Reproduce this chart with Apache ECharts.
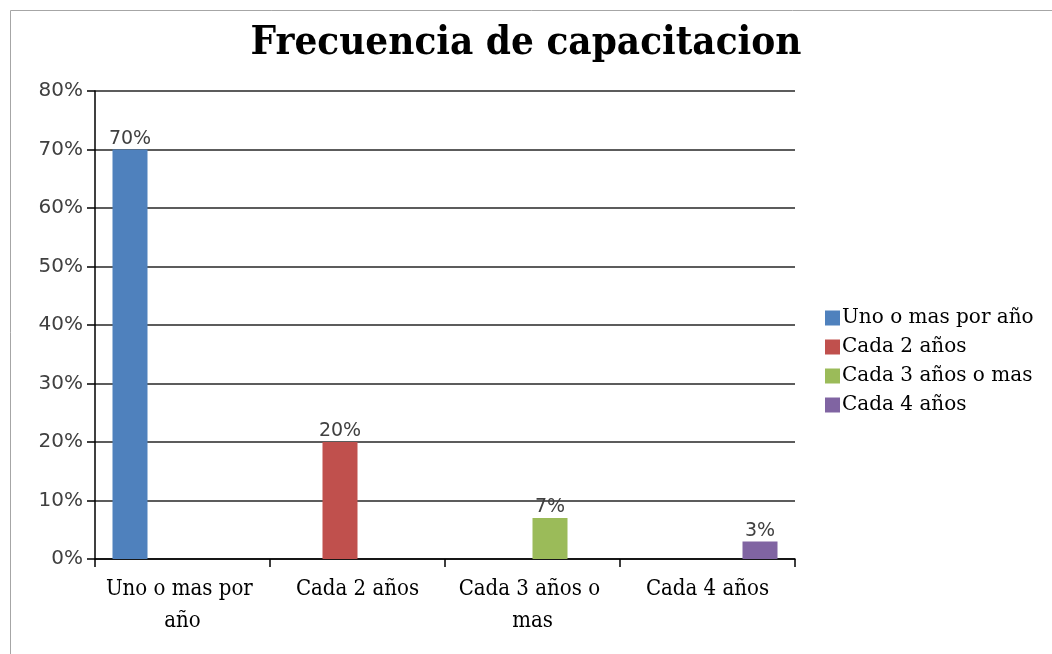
<!DOCTYPE html>
<html>
<head>
<meta charset="utf-8">
<script src="https://cdn.jsdelivr.net/npm/echarts@6/dist/echarts.min.js"></script>
<style>
  html, body { margin: 0; padding: 0; background: #fff; }
  #main { width: 1052px; height: 654px; }
</style>
</head>
<body>
<div id="main"></div>
<script>
  // data
  var titleText = 'Frecuencia de capacitacion'
  var categories = ['Uno o mas por año', 'Cada 2 años', 'Cada 3 años o mas', 'Cada 4 años']
  var seriesNames = ['Uno o mas por año', 'Cada 2 años', 'Cada 3 años o mas', 'Cada 4 años']
  var unoOMas = [70, null, null, null]
  var cada2 = [null, 20, null, null]
  var cada3 = [null, null, 7, null]
  var cada4 = [null, null, null, 3]
  var colors = ['#4f81bd', '#c0504d', '#9bbb59', '#8064a2']

  var seriesValues = [unoOMas, cada2, cada3, cada4]

  var myChart = echarts.init(document.getElementById('main'))

  var series = seriesValues.map(function (vals, i) {
    return {
      name: seriesNames[i],
      type: 'bar',
      data: vals,
      barGap: '0%',
      barCategoryGap: '20%',
      itemStyle: { color: colors[i] },
      label: {
        show: true,
        position: 'top',
        distance: 1,
        formatter: '{c}%',
        fontFamily: 'DejaVu Sans',
        fontSize: 19,
        color: '#404040'
      }
    }
  })

  var option = {
    animation: false,
    graphic: [{
      type: 'rect',
      shape: { x: 10.5, y: 10.5, width: 1100, height: 700 },
      style: { fill: 'none', stroke: '#a6a6a6', lineWidth: 1 },
      silent: true
    }],
    title: {
      text: titleText,
      left: 'center',
      top: 19,
      textStyle: {
        fontFamily: 'DejaVu Serif Condensed',
        fontWeight: 'bold',
        fontSize: 40,
        color: '#000'
      }
    },
    legend: {
      orient: 'vertical',
      left: 820,
      top: 303,
      itemWidth: 15,
      itemHeight: 15,
      itemGap: 9,
      icon: 'rect',
      textStyle: {
        fontFamily: 'DejaVu Serif',
        fontSize: 20,
        color: '#000',
        padding: [0, 0, 0, -3]
      },
      data: seriesNames
    },
    grid: {
      left: 95,
      right: 257,
      top: 91,
      bottom: 95,
      containLabel: false
    },
    xAxis: {
      type: 'category',
      data: categories,
      axisLine: { lineStyle: { color: '#000', width: 1.5 } },
      axisTick: { show: true, interval: 0, length: 8, lineStyle: { color: '#000', width: 1.5 } },
      axisLabel: {
        interval: 0,
        fontFamily: 'DejaVu Serif Condensed',
        fontSize: 22,
        color: '#000',
        margin: 14,
        lineHeight: 32,
        width: 170,
        overflow: 'break'
      }
    },
    yAxis: {
      type: 'value',
      min: 0,
      max: 80,
      interval: 10,
      axisLine: { show: true, lineStyle: { color: '#000', width: 1.5 } },
      axisTick: { show: true, inside: false, length: 8, lineStyle: { color: '#000', width: 1.5 } },
      axisLabel: {
        formatter: '{value}%',
        fontFamily: 'DejaVu Sans',
        fontSize: 20,
        color: '#404040',
        margin: 12
      },
      splitLine: { show: true, lineStyle: { color: '#262626', width: 1.5 } }
    },
    series: series
  }

  myChart.setOption(option)
</script>
</body>
</html>
